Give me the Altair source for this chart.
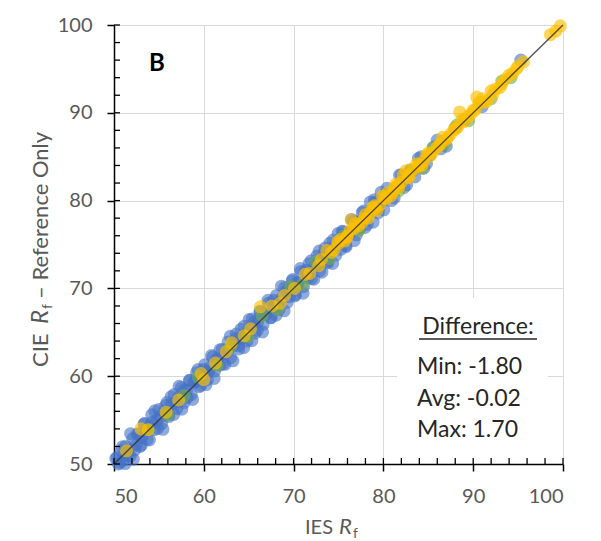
import altair as alt
import pandas as pd

# ---------------- data ----------------
blue_x = [50.2, 50.5, 50.8, 51.0, 51.3, 51.5, 51.8, 52.1, 52.3, 52.6, 52.9, 53.1, 53.4, 53.7,
          54.0, 54.2, 54.5, 54.8, 55.0, 55.3, 55.6, 55.9, 56.1, 56.4, 56.7, 57.0, 57.2, 57.5,
          57.8, 58.1, 58.4, 58.6, 58.9, 59.2, 59.5, 59.8, 60.1, 60.4, 60.7, 61.0, 61.2, 61.5,
          61.8, 62.1, 62.4, 62.7, 63.0, 63.3, 63.6, 63.9, 64.2, 64.5, 64.8, 65.1, 65.4, 65.7,
          66.0, 66.3, 66.6, 66.9, 67.2, 67.5, 67.8, 68.1, 68.4, 68.7, 69.0, 69.3, 69.6, 69.9,
          70.2, 70.5, 70.8, 71.1, 71.4, 71.7, 72.0, 72.3, 72.6, 72.9, 73.2, 73.5, 73.8, 74.1,
          74.4, 74.7, 75.0, 75.4, 75.8, 76.2, 76.6, 77.0, 77.4, 77.8, 78.2, 78.6, 79.0, 79.4,
          79.9, 80.4, 80.9, 81.5, 82.0, 82.6, 83.2, 83.9, 84.5, 85.2, 86.0, 87.0, 88.0, 89.0,
          91.0, 95.3,
          50.35, 50.65, 50.95, 51.25, 51.55, 51.85, 52.15, 52.45, 52.75, 53.05, 53.35, 53.65,
          53.95, 54.25, 54.55, 54.85, 55.15, 55.45, 55.75, 56.05, 56.35, 56.65, 56.95, 57.25,
          57.55, 57.85, 58.15, 58.45, 58.75, 59.05, 59.35, 59.65, 59.95, 60.25, 60.55, 60.85,
          61.15, 61.45, 61.75, 62.05, 62.35, 62.65, 62.95, 63.25, 63.55, 63.85, 64.15, 64.45,
          64.75, 65.05, 65.35, 65.65, 65.95, 66.25, 66.55, 66.85, 67.15, 67.45, 67.75, 68.05,
          68.35, 68.65, 68.95, 69.25, 69.55, 69.85, 70.15, 70.45, 70.75, 71.05, 71.35, 71.65,
          71.95, 72.25, 72.55, 72.85, 73.15, 73.45, 73.75, 74.05, 74.35, 74.65, 74.95, 75.25,
          75.55, 75.85, 76.15, 76.45, 76.75, 77.05, 77.35, 77.65, 77.95, 78.25, 78.55, 78.85,
          79.15, 79.45, 79.75, 80.05, 80.6, 81.2, 81.8, 82.3, 82.9, 83.5, 84.2, 84.8, 85.6, 86.4]
blue_y = [50.6, 50.0, 51.5, 50.4, 52.0, 51.0, 50.9, 52.9, 51.6, 53.4, 52.0, 53.0, 54.6, 52.8,
          54.3, 55.6, 53.9, 55.0, 56.2, 54.6, 55.9, 57.0, 55.4, 56.8, 57.9, 56.3, 57.6, 58.7,
          57.0, 58.4, 59.5, 57.9, 59.3, 60.4, 58.8, 60.0, 61.3, 59.6, 61.0, 62.2, 60.6, 61.8,
          63.0, 61.4, 62.6, 63.9, 62.1, 63.5, 64.8, 63.1, 64.3, 65.7, 64.0, 65.4, 66.5, 64.9,
          66.2, 67.4, 65.9, 67.0, 68.3, 66.7, 68.0, 69.2, 67.6, 68.9, 70.1, 68.4, 69.8, 71.0,
          69.3, 70.6, 71.9, 70.2, 71.5, 72.8, 71.1, 72.4, 73.7, 72.0, 73.3, 74.6, 72.9, 74.2,
          75.5, 73.8, 75.1, 76.5, 74.9, 76.4, 77.7, 76.1, 77.6, 78.8, 77.3, 78.7, 80.1, 78.6,
          79.9, 81.4, 80.0, 81.6, 82.9, 81.8, 83.3, 84.8, 83.7, 85.2, 86.9, 86.2, 88.3, 89.2,
          90.7, 96.0,
          50.75, 50.15, 51.95, 50.05, 51.55, 53.45, 50.55, 52.15, 53.45, 52.15, 54.55, 53.85,
          52.75, 54.75, 56.05, 54.05, 55.35, 53.95, 56.65, 55.65, 57.65, 55.65, 57.05, 58.85,
          56.25, 58.45, 57.55, 59.55, 57.35, 59.35, 60.75, 58.95, 60.75, 59.05, 60.55, 62.35,
          59.75, 61.95, 61.25, 63.05, 61.35, 62.85, 64.55, 61.75, 64.25, 63.45, 65.35, 63.25,
          64.85, 66.45, 64.05, 66.25, 65.25, 67.35, 65.05, 67.15, 68.65, 66.65, 68.65, 66.95,
          68.35, 70.25, 67.45, 69.75, 69.05, 70.85, 69.15, 70.65, 72.25, 69.45, 72.05, 71.25,
          73.15, 71.05, 72.65, 74.25, 71.85, 74.05, 73.05, 75.15, 72.85, 74.95, 76.25, 74.45,
          76.45, 74.75, 76.15, 77.85, 75.45, 77.55, 76.85, 78.65, 76.95, 78.45, 79.85, 77.55,
          79.85, 79.05, 80.95, 78.95, 80.8, 80.3, 82.9, 81.5, 83.3, 82.7, 85.0, 84.2, 86.1, 85.9]

green_x = [53.8, 56.0, 57.8, 59.4, 61.5, 63.0, 64.9, 66.5, 68.2, 69.7, 71.0, 72.5, 74.0, 75.6,
           77.3, 78.8, 80.2, 81.7, 83.0, 84.3, 85.5, 86.8, 88.2, 89.5, 90.8, 92.0, 93.2, 94.2]
green_y = [53.9, 55.6, 57.8, 59.9, 61.2, 63.4, 64.5, 66.9, 67.6, 70.2, 70.5, 73.0, 73.4, 76.0,
           76.6, 79.1, 80.6, 81.1, 83.5, 83.7, 86.0, 86.4, 88.6, 89.1, 91.2, 91.6, 93.6, 94.0]

yellow_x = [51.4, 53.0, 53.8, 55.8, 59.7, 60.0, 62.5, 63.1, 64.5, 66.3, 67.6, 68.5, 70.1, 71.3,
            72.8, 73.7, 74.5, 75.3, 76.0, 76.4, 77.2, 78.0, 78.5, 79.0, 79.6, 80.1, 80.5, 81.0,
            81.4, 82.0, 82.5, 83.0, 83.4, 84.0, 84.5, 85.0, 86.0, 87.0, 88.3, 88.5, 89.7, 90.4,
            91.0, 91.5, 92.0, 93.0, 94.0, 94.8, 98.6, 99.2, 99.7,
            74.9, 75.7, 76.3, 76.9, 77.6, 78.3, 78.8, 79.3, 79.9, 80.8, 81.2, 81.7, 82.2, 82.8,
            83.7, 84.3, 84.8, 85.5, 86.4, 86.6, 87.5, 87.9, 88.7, 89.4, 90.0, 90.6, 92.5, 93.5,
            95.0, 95.6,
            74.2, 75.0, 75.9, 76.7, 77.9, 79.1, 80.3, 81.6, 82.7, 83.9, 85.2, 86.2, 87.2, 88.0,
            89.0, 90.2, 91.2, 92.2, 93.2, 94.4, 69.0, 71.8, 73.1, 65.2, 61.3, 57.2]
yellow_y = [51.5, 54.0, 53.9, 55.9, 60.3, 59.6, 62.8, 63.8, 64.6, 67.9, 68.0, 68.3, 70.0, 71.6,
            72.6, 74.3, 74.4, 75.6, 76.0, 77.8, 77.1, 78.4, 78.6, 79.4, 79.5, 80.3, 80.9, 80.9,
            81.9, 82.1, 83.4, 83.0, 83.6, 84.1, 84.5, 85.4, 86.1, 87.0, 88.4, 90.1, 89.8, 91.8,
            91.6, 91.3, 92.5, 92.9, 94.3, 95.0, 98.9, 99.3, 99.9,
            75.3, 75.4, 76.6, 77.4, 77.5, 78.0, 79.2, 78.9, 80.5, 80.5, 81.4, 81.5, 82.9, 82.6,
            84.2, 84.0, 85.2, 85.5, 86.5, 87.2, 87.6, 88.2, 89.2, 89.6, 90.3, 91.1, 92.7, 93.8,
            95.3, 95.8,
            74.1, 75.1, 75.8, 76.8, 78.0, 79.1, 80.2, 81.7, 82.7, 83.9, 85.1, 86.3, 87.2, 88.1,
            89.0, 90.3, 91.2, 92.1, 93.3, 94.5, 69.2, 71.7, 73.3, 65.4, 61.5, 57.3]

series_names = ["Blue", "Green", "Yellow"]
series_colors = ["#4472C4", "#70AD47", "#FFC000"]
series_opacity = [0.6, 0.65, 0.75]

line_x = [50, 100]
line_y = [50, 100]

tick_values = [50, 60, 70, 80, 90, 100]
minor_ticks = list(range(50, 101, 2))

box_title = "Difference:"
box_lines = ["Min: -1.80", "Avg: -0.02", "Max: 1.70"]
panel_label = "B"

# ---------------- build tables ----------------
pts = pd.concat([
    pd.DataFrame({"x": blue_x, "y": blue_y, "series": "Blue"}),
    pd.DataFrame({"x": green_x, "y": green_y, "series": "Green"}),
    pd.DataFrame({"x": yellow_x, "y": yellow_y, "series": "Yellow"}),
], ignore_index=True)
pts["order"] = range(len(pts))
line_df = pd.DataFrame({"x": line_x, "y": line_y})
minor_df = pd.DataFrame({"v": minor_ticks})
one = pd.DataFrame({"a": [0]})

W, H = 449, 439
FONT = "Lato"
GRAY = "#595959"

xs = alt.Scale(domain=[50, 100], nice=False, zero=False)
ys = alt.Scale(domain=[50, 100], nice=False, zero=False)

axis_common = dict(values=tick_values, grid=True, gridColor="#d9d9d9", gridWidth=1,
                   domainColor="black", domainWidth=1.5, tickColor="black", tickWidth=1.5,
                   tickSize=7, labelFont=FONT, labelFontSize=20, labelColor=GRAY,
                   labelPadding=15, title=None)

points = alt.Chart(pts).mark_circle(size=170, stroke=None).encode(
    x=alt.X("x:Q", scale=xs, axis=alt.Axis(**axis_common)),
    y=alt.Y("y:Q", scale=ys, axis=alt.Axis(**axis_common)),
    color=alt.Color("series:N", scale=alt.Scale(domain=series_names, range=series_colors), legend=None),
    opacity=alt.Opacity("series:N", scale=alt.Scale(domain=series_names, range=series_opacity), legend=None),
    order=alt.Order("order:Q"),
)

diag = alt.Chart(line_df).mark_line(color="#333333", strokeWidth=1.3, opacity=0.85).encode(
    x=alt.X("x:Q", scale=xs), y=alt.Y("y:Q", scale=ys))

# inside ticks
xticks_in = alt.Chart(minor_df).mark_rule(color="black", strokeWidth=1.3).encode(
    x=alt.X("v:Q", scale=xs), y=alt.value(H), y2=alt.value(H - 6))
yticks_in = alt.Chart(minor_df).mark_rule(color="black", strokeWidth=1.3).encode(
    y=alt.Y("v:Q", scale=ys), x=alt.value(0), x2=alt.value(6))

# white text box background
box_bg = alt.Chart(one).mark_rect(color="white").encode(
    x=alt.value(283), x2=alt.value(434), y=alt.value(273), y2=alt.value(H - 1))

def txt(text, x, y, size=22, color="#262626", align="left", baseline="alphabetic",
        weight="normal", style="normal", angle=0):
    return alt.Chart(one).mark_text(text=text, font=FONT, fontSize=size, color=color,
                                    align=align, baseline=baseline, fontWeight=weight,
                                    fontStyle=style, angle=angle).encode(
        x=alt.value(x), y=alt.value(y))

texts = [
    txt(panel_label, 43, 39, size=24, color="black", align="center", baseline="middle", weight="bold"),
    txt(box_title, 364, 309, size=23, align="center"),
    txt(box_lines[0], 303, 349, size=23),
    txt(box_lines[1], 303, 381, size=23),
    txt(box_lines[2], 303, 412, size=23),
    # x title
    txt("IES", 191, 509, size=20, color=GRAY),
    txt("R", 225, 509, size=22, color=GRAY, style="italic"),
    txt("f", 239, 513, size=14, color=GRAY),
    # y title (rotated)
    txt("CIE", -66, 342, size=22, color=GRAY, angle=270),
    txt("R", -66, 299, size=24, color=GRAY, style="italic", angle=270),
    txt("f", -62, 284, size=14, color=GRAY, angle=270),
    txt("\u2013 Reference Only", -66, 274, size=22, color=GRAY, angle=270),
]

underline = alt.Chart(one).mark_rule(color="#262626", strokeWidth=1.5).encode(
    x=alt.value(305), x2=alt.value(423), y=alt.value(314))

chart = alt.layer(points, diag, box_bg, xticks_in, yticks_in, underline, *texts).properties(
    width=W, height=H,
    autosize=alt.AutoSizeParams(type="none"),
    padding={"left": 106, "top": 17, "right": 30, "bottom": 77},
).configure_view(stroke="#6e6e6e", strokeWidth=1.5).configure(background="white")

chart.save("out.html", embed_options={"renderer": "svg", "actions": False})
